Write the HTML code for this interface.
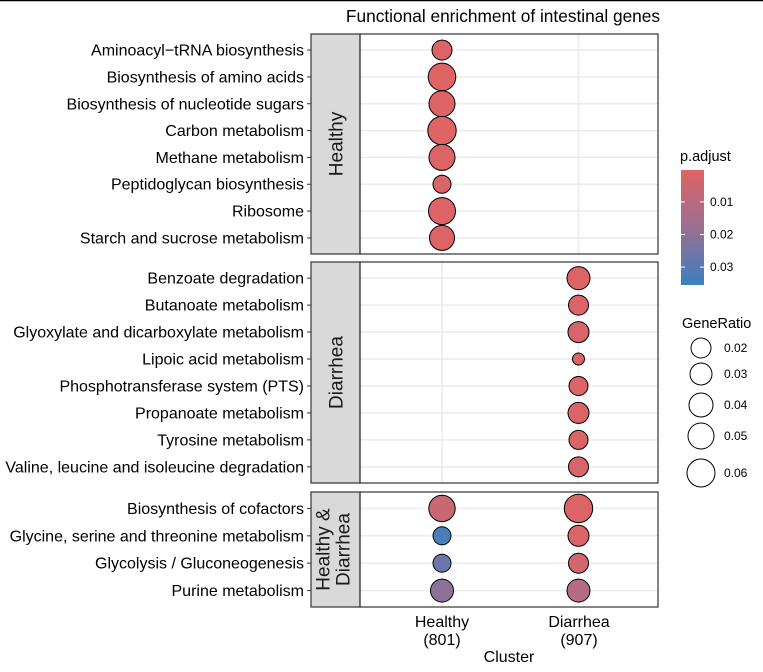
<!DOCTYPE html>
<html><head><meta charset="utf-8"><style>
body{margin:0;background:#fff;width:763px;height:667px;overflow:hidden}
svg{font-family:"Liberation Sans",Arial,sans-serif}
</style></head><body>
<svg id="chart" width="763" height="667" xmlns="http://www.w3.org/2000/svg">
<line x1="0" y1="0.5" x2="763" y2="0.5" stroke="#000" stroke-width="1.5"/>
<text x="503" y="22" font-size="17.3" text-anchor="middle">Functional enrichment of intestinal genes</text>
<g id="panels"></g>
<text x="442" y="627" font-size="16" text-anchor="middle">Healthy</text>
<text x="442" y="645" font-size="16" text-anchor="middle">(801)</text>
<text x="579" y="627" font-size="16" text-anchor="middle">Diarrhea</text>
<text x="579" y="645" font-size="16" text-anchor="middle">(907)</text>
<text x="509" y="662" font-size="16" text-anchor="middle">Cluster</text>
<g>
<text x="680" y="161" font-size="14.5">p.adjust</text>
<defs><linearGradient id="grad" x1="0" y1="0" x2="0" y2="1"><stop offset="0" stop-color="#e06464"/><stop offset="0.5" stop-color="#9a6f93"/><stop offset="1" stop-color="#3a80c0"/></linearGradient></defs>
<rect x="681" y="170" width="23" height="115" fill="url(#grad)"/>
<g id="cbticks"></g>
</g>
<g>
<text x="682" y="328" font-size="14.5">GeneRatio</text>
<g id="sizelegend"></g>
</g>
</svg>
<script>
const NS="http://www.w3.org/2000/svg";
const groups=["Healthy","Diarrhea","Healthy & Diarrhea"];
const terms=[
["Aminoacyl−tRNA biosynthesis","Biosynthesis of amino acids","Biosynthesis of nucleotide sugars","Carbon metabolism","Methane metabolism","Peptidoglycan biosynthesis","Ribosome","Starch and sucrose metabolism"],
["Benzoate degradation","Butanoate metabolism","Glyoxylate and dicarboxylate metabolism","Lipoic acid metabolism","Phosphotransferase system (PTS)","Propanoate metabolism","Tyrosine metabolism","Valine, leucine and isoleucine degradation"],
["Biosynthesis of cofactors","Glycine, serine and threonine metabolism","Glycolysis / Gluconeogenesis","Purine metabolism"]];
const clusters=["Healthy","Diarrhea"];
const ratioH=[[0.02,0.058,0.05,0.062,0.05,0.0175,0.055,0.045],[null,null,null,null,null,null,null,null],[0.052,0.0175,0.0175,0.035]];
const ratioD=[[null,null,null,null,null,null,null,null],[0.035,0.02,0.025,0.01,0.01875,0.025,0.01875,0.02],[0.062,0.025,0.02,0.035]];
const padjH=[[0.001,0.0005,0.001,0.0005,0.001,0.002,0.001,0.001],[null,null,null,null,null,null,null,null],[0.006,0.033,0.027,0.02]];
const padjD=[[null,null,null,null,null,null,null,null],[0.001,0.002,0.002,0.002,0.002,0.002,0.002,0.002],[0.001,0.002,0.004,0.011]];
const cbTicks=[0.01,0.02,0.03];
const sizeTicks=[0.02,0.03,0.04,0.05,0.06];

const panelY=[[34,254],[262,483],[492,607]];
const sizeLegendY=[348,374,405,436,473];
const px0=360,px1=658,sx0=311;
const xPos=i=>442+i*136.5;
const rScale=g=>g>=0.02?10+100*(g-0.02):10-400*(0.02-g);
function lerp(a,b,t){return Math.round(a+(b-a)*t)}
function col(p){let t=Math.max(0,Math.min(1,(p-0.0002)/0.0353));
 const c0=[224,100,100],c1=[154,111,147],c2=[58,128,192];
 let a,b,u; if(t<0.5){a=c0;b=c1;u=t*2}else{a=c1;b=c2;u=(t-0.5)*2}
 return `rgb(${lerp(a[0],b[0],u)},${lerp(a[1],b[1],u)},${lerp(a[2],b[2],u)})`;}
function el(tag,attrs,parent){const e=document.createElementNS(NS,tag);for(const k in attrs)e.setAttribute(k,attrs[k]);parent.appendChild(e);return e;}
const P=document.getElementById("panels");
groups.forEach((g,gi)=>{
 const [y0,y1]=panelY[gi];const n=terms[gi].length;
 const step=(y1-y0)/(n+0.2);const yOf=r=>y0+step*(r+0.6);
 const grp=el("g",{},P);
 
 
 el("rect",{x:px0,y:y0,width:px1-px0,height:y1-y0,fill:"#fff"},grp);
 clusters.forEach((c,ci)=>el("line",{x1:xPos(ci),x2:xPos(ci),y1:y0,y2:y1,stroke:"#ebebeb","stroke-width":1.5},grp));
 terms[gi].forEach((t,ri)=>{
  const y=yOf(ri);
  el("line",{x1:px0,x2:px1,y1:y,y2:y,stroke:"#ebebeb","stroke-width":1.5},grp);
  el("line",{x1:sx0-4,x2:sx0,y1:y,y2:y,stroke:"#333"},grp);
  const tx=el("text",{x:sx0-7,y:y+5.5,"font-size":16,"text-anchor":"end",fill:"#000"},grp);
  tx.textContent=t;
  
  
  [[ratioH,padjH],[ratioD,padjD]].forEach(([R,Pa],ci)=>{
   const v=R[gi][ri];if(v==null)return;
   const c=el("circle",{cx:xPos(ci),cy:y,r:rScale(v),fill:col(Pa[gi][ri]),stroke:"#000","stroke-width":1},grp);
   
   
  });
 });
 el("rect",{x:sx0,y:y0,width:px0-sx0,height:y1-y0,fill:"#d9d9d9",stroke:"#333","stroke-width":1.2},grp);
 el("rect",{x:px0,y:y0,width:px1-px0,height:y1-y0,fill:"none",stroke:"#333","stroke-width":1.2},grp);
 const cy=(y0+y1)/2;
 const st=el("text",{transform:`translate(${(sx0+px0)/2+(gi==2?-6:7)},${cy}) rotate(-90)`,"font-size":19,"text-anchor":"middle",fill:"#1a1a1a"},grp);
 
 
 if(gi==2){st.textContent="Healthy &";const s2=el("text",{transform:`translate(${(sx0+px0)/2+14},${cy}) rotate(-90)`,"font-size":19,"text-anchor":"middle",fill:"#1a1a1a"},grp);s2.textContent="Diarrhea";
  
  }
 else st.textContent=g;
});
const CB=document.getElementById("cbticks");
cbTicks.forEach(v=>{const y=170+(v-0.0002)/0.0353*115;
 el("line",{x1:681,x2:685,y1:y,y2:y,stroke:"#fff","stroke-width":1},CB);
 el("line",{x1:700,x2:704,y1:y,y2:y,stroke:"#fff","stroke-width":1},CB);
 const t=el("text",{x:710,y:y+4,"font-size":12},CB);t.textContent=v.toFixed(2);
 
 });
const SL=document.getElementById("sizelegend");
sizeTicks.forEach((v,i)=>{const y=sizeLegendY[i];
 const c=el("circle",{cx:701,cy:y,r:rScale(v),fill:"none",stroke:"#000"},SL);
 
 
 const t=el("text",{x:724,y:y+4,"font-size":12},SL);t.textContent=v.toFixed(2);
 
 });
</script>
</body></html>
